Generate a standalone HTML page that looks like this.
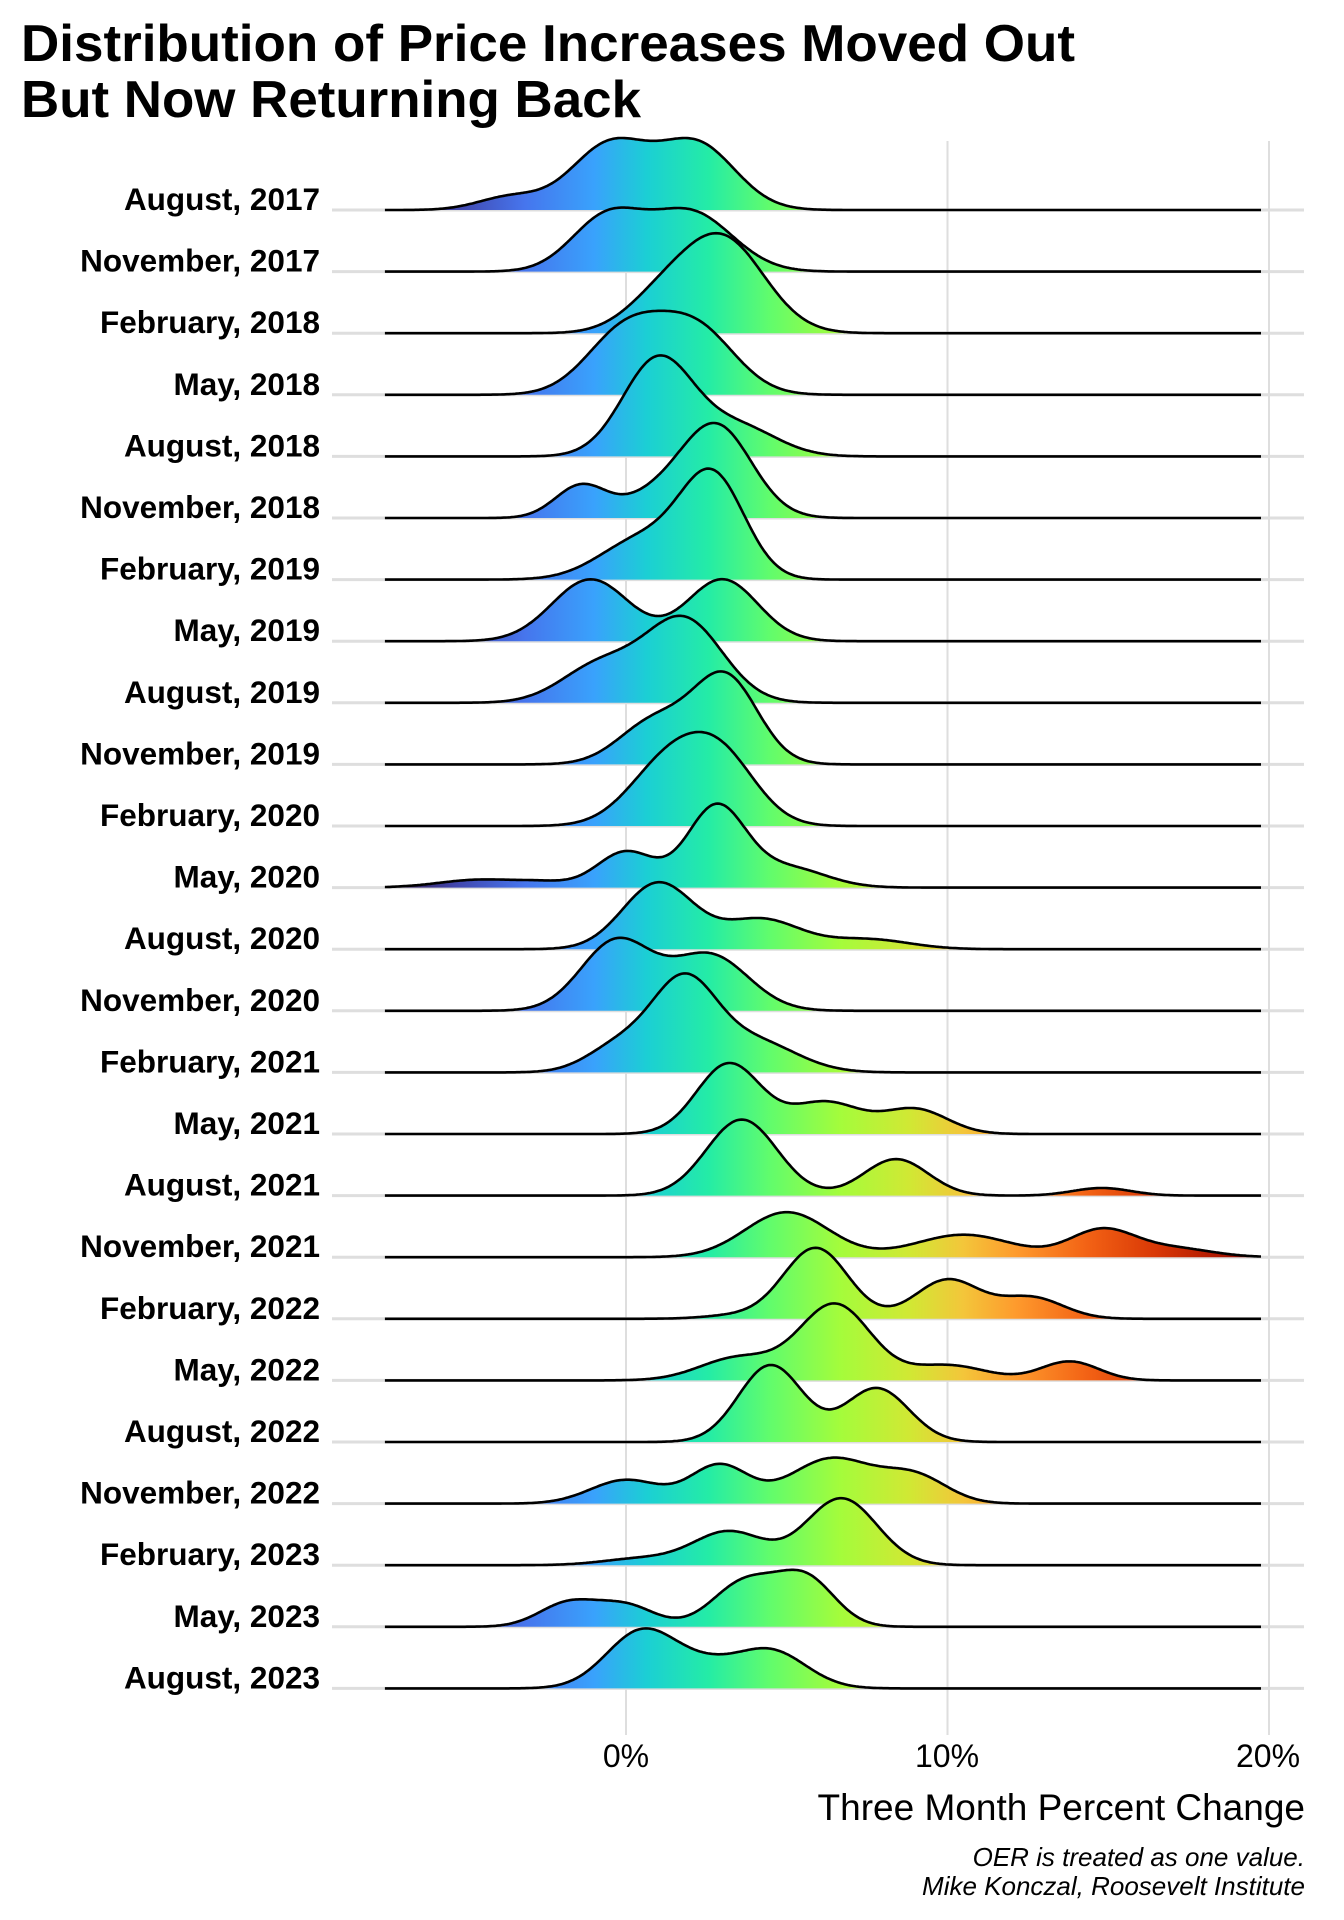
<!DOCTYPE html>
<html><head><meta charset="utf-8"><style>
html,body{margin:0;padding:0;background:#fff;}
svg{display:block;}
</style></head><body>
<svg id="s" width="1344" height="1920" xmlns="http://www.w3.org/2000/svg" font-family="Liberation Sans, Arial, sans-serif">
<defs>
<linearGradient id="g" gradientUnits="userSpaceOnUse" x1="384" y1="0" x2="1261" y2="0">
<stop offset="0" stop-color="#30123b"/>
<stop offset="0.08" stop-color="#4145ab"/>
<stop offset="0.16" stop-color="#4675ed"/>
<stop offset="0.24" stop-color="#39a2fc"/>
<stop offset="0.30" stop-color="#1bcfd4"/>
<stop offset="0.37" stop-color="#24eca6"/>
<stop offset="0.44" stop-color="#61fc6c"/>
<stop offset="0.52" stop-color="#a4fc3b"/>
<stop offset="0.60" stop-color="#d1e834"/>
<stop offset="0.66" stop-color="#f3c63a"/>
<stop offset="0.72" stop-color="#fe9b2d"/>
<stop offset="0.80" stop-color="#f36315"/>
<stop offset="0.88" stop-color="#d93806"/>
<stop offset="0.95" stop-color="#b11901"/>
<stop offset="1" stop-color="#7a0403"/>
</linearGradient>
</defs>
<text x="21" y="61" font-size="52" font-weight="bold" textLength="1054" lengthAdjust="spacingAndGlyphs">Distribution of Price Increases Moved Out</text>
<text x="21" y="117" font-size="52" font-weight="bold" textLength="620" lengthAdjust="spacingAndGlyphs">But Now Returning Back</text>
<g id="grid" stroke="#dedede" stroke-width="2"></g>
<g id="ridges"></g>
<g id="labels" font-size="31.5" font-weight="bold" text-anchor="end"></g>
<g font-size="32" text-anchor="middle">
<text x="626" y="1767">0%</text>
<text x="947" y="1767">10%</text>
<text x="1268" y="1767">20%</text>
</g>
<text x="1305" y="1820" font-size="37" text-anchor="end">Three Month Percent Change</text>
<text x="1305" y="1866" font-size="26" font-style="italic" text-anchor="end">OER is treated as one value.</text>
<text x="1305" y="1895" font-size="26" font-style="italic" text-anchor="end">Mike Konczal, Roosevelt Institute</text>
</svg>
<script>
var NS="http://www.w3.org/2000/svg";
function X(v){return 626+32.15*v;}
var labels=["August, 2017","November, 2017","February, 2018","May, 2018","August, 2018","November, 2018","February, 2019","May, 2019","August, 2019","November, 2019","February, 2020","May, 2020","August, 2020","November, 2020","February, 2021","May, 2021","August, 2021","November, 2021","February, 2022","May, 2022","August, 2022","November, 2022","February, 2023","May, 2023","August, 2023"];
var R=[
[[[-0.5,1.2,1],[2.2,1.2,1],[-3.6,1.0,0.2]],72],
[[[-0.6,1.1,0.9],[2.0,1.3,1]],64],
[[[3,1.3,1],[1,1.1,0.3]],100],
[[[0,1.2,1],[2.2,1.2,1]],84],
[[[1,1.1,1],[3.5,1.2,0.3]],101],
[[[-1.4,0.8,0.35],[2.8,1.1,1],[0.8,1,0.2]],95],
[[[2.7,1.0,1],[0.5,1.3,0.4]],111],
[[[-1.1,1.2,1],[3,1.1,1]],62],
[[[1.8,1.2,1],[-0.8,1.2,0.45]],87],
[[[3.1,1.0,1],[0.9,1.1,0.5]],93],
[[[1.3,1.2,1],[3,1.1,1]],94],
[[[-4.5,1.3,0.1],[-2.5,0.8,0.05],[0,0.9,0.45],[2.8,0.9,1],[5,1.2,0.25]],84],
[[[1,1.1,1],[4.2,1.2,0.45],[7.5,1.3,0.15]],67],
[[[-0.3,1.1,1],[2.6,1.2,0.8]],73],
[[[1.8,1.0,1],[4,1.3,0.35],[-0.2,1.0,0.3]],99],
[[[3.2,1.0,1],[6.2,1.1,0.45],[9,1.0,0.35]],71],
[[[3.6,1.1,1],[8.4,1.0,0.48],[14.8,0.9,0.1]],76],
[[[5,1.3,1],[10.5,1.5,0.5],[14.8,1.0,0.6],[17,1.2,0.2]],45],
[[[5.9,1.0,1],[10,1.0,0.55],[12.6,1.0,0.3],[3.5,1,0.05]],71],
[[[6.5,1.1,1],[3.5,1.2,0.3],[10,1.2,0.2],[13.8,0.9,0.25]],77],
[[[4.5,1.0,1],[7.8,1.0,0.7]],77],
[[[0,1.1,0.5],[2.9,0.9,0.8],[6.4,1.3,0.95],[9,1.0,0.55]],46],
[[[3.2,1.1,0.5],[6.7,1.1,1],[0.5,1.2,0.1]],67],
[[[-1.8,0.9,0.45],[0,0.9,0.4],[3.7,1.0,0.85],[5.6,0.9,0.9]],57],
[[[0.5,1.1,1],[4.5,1.1,0.65],[2.5,1,0.3]],60]
];
var grid=document.getElementById("grid"),rg=document.getElementById("ridges"),lb=document.getElementById("labels");
[0,10,20].forEach(function(v){var l=document.createElementNS(NS,"line");l.setAttribute("x1",X(v));l.setAttribute("x2",X(v));l.setAttribute("y1",141);l.setAttribute("y2",1735);grid.appendChild(l);});
for(var i=0;i<25;i++){
 var b=210+61.6*i;
 var l=document.createElementNS(NS,"line");l.setAttribute("x1",332);l.setAttribute("x2",1304);l.setAttribute("y1",b);l.setAttribute("y2",b);l.setAttribute("stroke-width",3);grid.appendChild(l);
 var t=document.createElementNS(NS,"text");t.setAttribute("x",320);t.setAttribute("y",b);t.textContent=labels[i];lb.appendChild(t);
 var comps=R[i][0],H=R[i][1],pts=[],mx=0;
 for(var v=-7.5;v<=19.76;v+=0.05){var d=0;comps.forEach(function(c){d+=c[2]*Math.exp(-0.5*Math.pow((v-c[0])/c[1],2));});pts.push([v,d]);if(d>mx)mx=d;}
 var line="";pts.forEach(function(p,k){line+=(k?"L":"M")+X(p[0]).toFixed(1)+","+(b-p[1]/mx*H).toFixed(1);});
 var f=document.createElementNS(NS,"path");f.setAttribute("d",line+"L"+X(19.75)+","+b+"L"+X(-7.5)+","+b+"Z");f.setAttribute("fill","url(#g)");rg.appendChild(f);
 var s=document.createElementNS(NS,"path");s.setAttribute("d",line);s.setAttribute("fill","none");s.setAttribute("stroke","#000");s.setAttribute("stroke-width","2.6");rg.appendChild(s);
}
</script>
</body></html>
